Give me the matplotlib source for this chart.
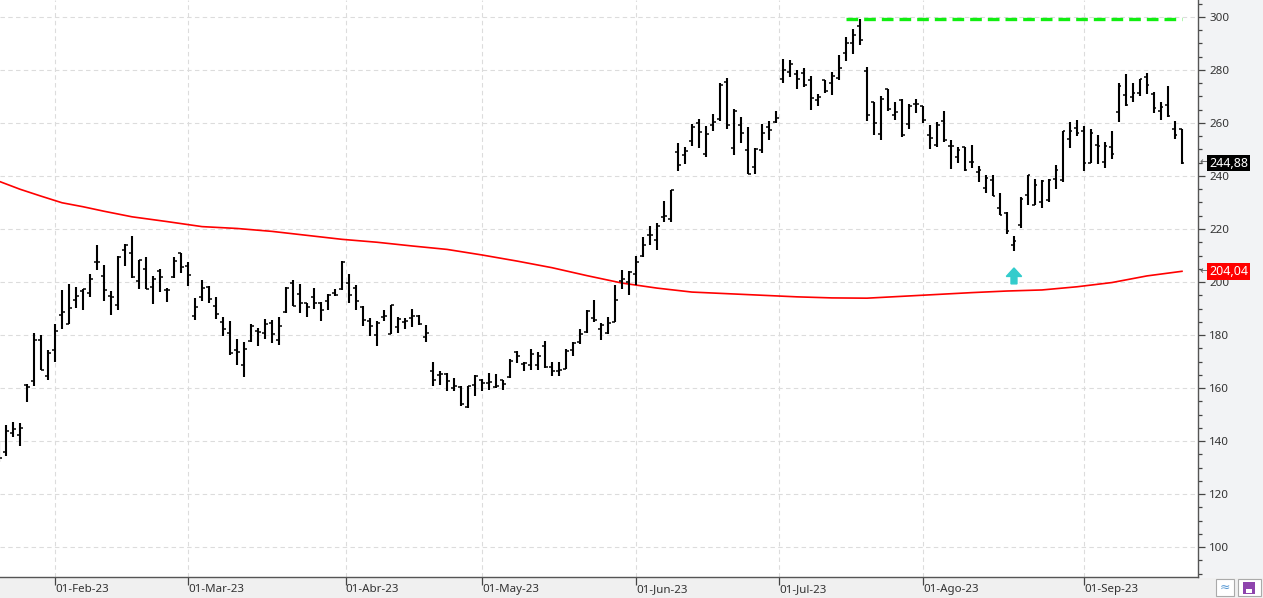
import numpy as np
import matplotlib.pyplot as plt
from matplotlib.ticker import MultipleLocator
from matplotlib.patches import Rectangle

plt.rcParams['font.family'] = ['Noto Sans', 'DejaVu Sans']

## DATA ##

# daily OHLC bars, one per trading day (Jan-23 .. Sep-23)
opens = [138, 136, 143.1, 142.1, 161.25, 162.75, 178, 164.6, 174.25, 187.4,
         184.25, 193.1, 196.6, 196, 207.6, 202.1, 194.6, 191.5, 211.9, 211.1,
         200.25, 204.75, 198, 204, 197.1, 201.9, 211, 206.1, 187.1, 194.5,
         198.25, 191.1, 184.9, 180.75, 174.25, 168.5, 177.6, 181.5, 180.6, 184.6,
         178, 188.5, 199.5, 195.4, 191.9, 194.5, 192, 192.9, 195.75, 197.5,
         199.75, 197.9, 190.6, 185.25, 180, 186.9, 180.5, 183, 184.75, 186.25,
         187.25, 179.25, 166.4, 165, 165.4, 160, 160.4, 152.75, 161.25, 163.1,
         161.9, 160.4, 162.9, 164.25, 173.75, 169.1, 168.75, 168.6, 176, 168,
         166.4, 167.1, 174.25, 177.25, 181, 186.25, 182.25, 180.6, 184.75, 200.25,
         199.9, 202.9, 209.75, 217.75, 215.9, 224.4, 223.6, 249.1, 247.9, 253.2,
         260, 248.3, 259.3, 261.4, 275.3, 250.7, 259.3, 249.8, 243.3, 249.9,
         258.3, 260.4, 276.7, 279.2, 278.3, 278.9, 276.3, 268.7, 276.2, 274.9,
         277, 286.5, 290.3, 296.5, 279.7, 268.1, 255.7, 272.8, 263, 268.5,
         259.6, 267.2, 266.3, 255.6, 251.7, 260.9, 251.3, 247.3, 250.8, 245.1,
         241.6, 235.4, 238.6, 228, 226.2, 213.9, 221.4, 232.9, 229.1, 230,
         230.9, 238.8, 238.4, 254, 258.1, 257.1, 244.8, 251.7, 245.1, 250.8,
         264.3, 270.6, 269.7, 271.5, 277.3, 271.1, 264.4, 266.6, 257.9, 257.6]
highs = [140, 145.9, 147, 146.75, 161.5, 180.6, 180, 174.4, 184.1, 196.9,
         199.1, 198.25, 197.5, 202.9, 214.1, 206.25, 196.5, 209.9, 214.4, 217.5,
         208.4, 209.6, 202.1, 205, 197.75, 209.6, 211.1, 207.4, 193.9, 200.6,
         198.4, 194.25, 186.75, 185.25, 178.4, 177.4, 184, 182.5, 186, 185.75,
         186.9, 198.1, 200.6, 199.4, 192.25, 197.6, 192.4, 195.4, 197.25, 207.75,
         202.9, 198.75, 190.9, 186.5, 185.25, 189.25, 191.5, 186.75, 186.6, 189.75,
         187.6, 183.75, 170, 166.25, 165.6, 163.75, 160.6, 160.6, 165.1, 163.4,
         165.75, 165.25, 163, 171, 174, 169.75, 174.75, 173.5, 177.75, 169.75,
         169.9, 174.75, 177.25, 182.1, 189.4, 193.1, 184.4, 186.9, 199, 204.5,
         204, 210, 217, 221.25, 222.1, 230.6, 234.9, 252.6, 251.1, 259.6,
         261.5, 259, 263.4, 275, 277, 265.1, 262.4, 258.3, 250.4, 259.6,
         260.9, 264.7, 284.2, 283.9, 280.1, 280.8, 277.6, 271, 276.3, 279.4,
         285.5, 292.4, 295.3, 299.4, 281.1, 268.1, 270, 272.9, 268.1, 269.1,
         267.2, 269.1, 266.5, 259.4, 260.5, 264.7, 253.6, 251.1, 251.1, 251.8,
         243.8, 240.5, 240.5, 233.7, 226.5, 217.4, 232, 240.5, 238.8, 238.4,
         238.8, 244.1, 257.1, 260.5, 261.2, 259, 257.8, 255.6, 253, 256.8,
         275, 278.6, 275, 276.7, 279, 271.6, 268.1, 274.1, 260.9, 257.8]
lows = [132, 134.4, 141.4, 138.25, 154.6, 160.9, 166.75, 162.9, 170, 182.4,
        184.25, 190.1, 189.4, 194.4, 204.4, 192.9, 187.6, 189.6, 206, 201.6,
        197.4, 197.25, 191.6, 196.1, 192.4, 201.6, 203.4, 198.4, 185.6, 192.9,
        192.1, 186.1, 179.75, 172.5, 168.5, 164.1, 177.5, 176, 178.5, 177,
        176.4, 188.4, 190.9, 188.4, 186.9, 189.9, 185.4, 189.6, 194.6, 197.1,
        192.1, 189.4, 183.5, 179.75, 176, 185.4, 180.25, 180.9, 182.1, 183.1,
        183.6, 177.5, 160.6, 161.25, 158.75, 158.75, 153.1, 152.4, 157.1, 158.75,
        159.1, 160, 159.4, 163.75, 169.4, 166.6, 166.9, 166.75, 167.4, 164.4,
        164.4, 167.1, 172.25, 176.6, 180.6, 185, 178.25, 180.4, 184.75, 197.5,
        195.25, 199, 209.4, 214.1, 212.25, 222.8, 222.8, 241.7, 244.4, 251.2,
        250.4, 247, 256.9, 260.9, 257.6, 248, 252.6, 240.6, 240.6, 248.5,
        253.6, 260, 275, 277.3, 272.8, 273.5, 264.9, 266.3, 271.3, 270.6,
        276.3, 283.4, 286, 289.4, 260.9, 255.6, 253.7, 264.7, 261.3, 254.6,
        257.6, 263.7, 259.9, 250.1, 251.1, 252.7, 242.5, 244.8, 241.7, 243,
        237.6, 233.5, 232.3, 225.3, 218.3, 211.7, 220.3, 229.1, 228.9, 227.9,
        230, 235.1, 237.6, 250.4, 255.1, 241.9, 244.8, 244.7, 242.9, 246.4,
        260.3, 266.3, 267.8, 270, 271, 263.7, 261.2, 262.4, 254, 244.6]
closes = [133.75, 143.9, 144.4, 144.75, 160.4, 178, 166.75, 173.25, 181.5, 188.5,
          190.1, 194.9, 197.25, 201.25, 207.4, 196.9, 194.5, 209.5, 214.1, 201.9,
          208.4, 197.4, 201, 202, 196.9, 207.75, 205.75, 202.75, 190.75, 197.9,
          193.75, 187.75, 182.1, 173.25, 173.5, 174.75, 183.4, 181.1, 184.1, 180.25,
          183.4, 197.75, 191.1, 192.25, 190.5, 191.9, 189.25, 195, 195.25, 207.5,
          195, 192.75, 185.5, 183.4, 184.5, 187.25, 191.25, 186.1, 185.4, 187.1,
          184.1, 180.75, 163, 165.4, 162.6, 160.6, 154, 160.6, 164.4, 161.9,
          162.25, 160.9, 161.5, 170.25, 172.1, 169.6, 173, 172.1, 168, 166.4,
          166.9, 174, 176.9, 180.4, 189.1, 185.5, 183.6, 184.6, 193.1, 201.25,
          203.9, 207.4, 213.9, 217.75, 221.25, 224.8, 234.8, 244.1, 249.4, 258.5,
          256.6, 255.9, 260.5, 274.5, 259.4, 264.7, 256.4, 240.9, 250.3, 256.2,
          257.5, 261.7, 280.1, 282.3, 276.7, 274.3, 269.5, 269.9, 272.1, 277.8,
          280.8, 290.3, 293.3, 291.4, 263, 260, 269.1, 265.2, 264.3, 255.5,
          266.5, 267.2, 261.3, 254.4, 259.3, 253.6, 251.3, 249.8, 242.2, 245.1,
          242.4, 239.2, 232.5, 225.3, 219.3, 215.5, 231.5, 240.2, 236.7, 238.2,
          238.6, 242.2, 256.8, 257, 256.2, 245, 256.2, 251.5, 251.2, 248.3,
          273.8, 266.6, 271.5, 276.5, 274.5, 265.6, 266.2, 262.8, 255.6, 244.88]

# moving average (red line) at a number of bars
ma_idx = [1, 4, 7, 10, 13, 16, 20, 25, 30, 35, 40, 45, 50, 55, 60, 65, 70, 75,
          80, 85, 90, 95, 100, 105, 110, 115, 120, 125, 130, 135, 140, 145, 150,
          155, 160, 165, 170]
ma_val = [238.0, 235.0, 232.4, 229.9, 228.4, 226.7, 224.6, 222.8, 220.9, 220.2,
          219.1, 217.6, 216.1, 215.0, 213.6, 212.3, 210.2, 207.9, 205.4, 202.4,
          199.6, 197.7, 196.2, 195.6, 195.0, 194.4, 194.0, 193.9, 194.6, 195.3,
          196.0, 196.6, 197.0, 198.2, 199.8, 202.3, 204.04]

# month ticks (position in trading days)
tick_pos = [9, 28, 50.5, 70, 92, 112.5, 133, 156]
tick_lab = ['01-Feb-23', '01-Mar-23', '01-Abr-23', '01-May-23',
            '01-Jun-23', '01-Jul-23', '01-Ago-23', '01-Sep-23']

resist_level = 299.3          # green dashed line
resist_from, resist_to = 122, 170
signal_bar = 146              # cyan arrow
last_close = closes[-1]
last_ma = ma_val[-1]

## PLOT ##
W, H = 1263, 598
fig = plt.figure(figsize=(W / 100, H / 100), dpi=100)
fig.patch.set_facecolor('#f0f0f0')

# right price panel background, behind the axes
fig.patches.append(Rectangle((1199 / W, 21 / H), (W - 1199) / W, 1 - 21 / H,
                             transform=fig.transFigure, color='#f2f3f5', zorder=-5))

ax = fig.add_axes([0, 21 / H, 1198 / W, 577 / H])
ax.set_facecolor('white')

idx = np.arange(1, len(opens) + 1)
ax.vlines(idx, lows, highs, color='black', linewidth=1.5, zorder=3)
ax.hlines(opens, idx - 0.36, idx, color='black', linewidth=1.1, zorder=3)
ax.hlines(closes, idx, idx + 0.36, color='black', linewidth=1.1, zorder=3)

ax.plot(ma_idx, ma_val, color='#ff0000', linewidth=1.2, zorder=2)
ax.hlines(resist_level, resist_from, resist_to, color='#11ee11', linewidth=2.4,
          linestyles=(0, (3.5, 1.8)), zorder=2)
ax.arrow(signal_bar, 199.3, 0, 2.8, width=0.85, head_width=2.2, head_length=3.2,
         length_includes_head=False, color='#33cccc', zorder=4)

# axes
ax.set_xlim(1.14, 172.29)
ax.set_ylim(88.7, 306.4)
ax.grid(True, color='#dcdcdc', linestyle=(0, (4, 3)), linewidth=0.8)
ax.set_axisbelow(True)

ax.yaxis.tick_right()
ax.set_yticks(range(100, 301, 20))
ax.yaxis.set_minor_locator(MultipleLocator(5))
ax.tick_params(axis='y', which='major', length=5, width=0.9, color='#444444',
               labelsize=8.3, labelcolor='#333333', pad=3)
ax.tick_params(axis='y', which='minor', length=3, width=0.9, color='#444444')

ax.set_xticks(tick_pos)
ax.set_xticklabels(tick_lab)
ax.tick_params(axis='x', length=6, width=0.9, color='#444444', labelsize=8.3,
               labelcolor='#333333', pad=-1.2)
for lab in ax.get_xticklabels():
    lab.set_horizontalalignment('left')

for s in ['top', 'left']:
    ax.spines[s].set_visible(False)
for s in ['right', 'bottom']:
    ax.spines[s].set_color('#555555')
    ax.spines[s].set_linewidth(1.0)

# price tags on the right axis
for val, bg in [(last_close, 'black'), (last_ma, '#ff0000')]:
    lab = f'{val:.2f}'.replace('.', ',')
    ax.annotate(lab, xy=(1.0, val), xycoords=('axes fraction', 'data'),
                xytext=(11, 0), textcoords='offset pixels', va='center', ha='left',
                fontsize=9, color='white', zorder=6,
                bbox=dict(boxstyle='square,pad=0.15', fc=bg, ec='none'),
                annotation_clip=False)
    ax.annotate('\u2190', xy=(1.0, val), xycoords=('axes fraction', 'data'),
                xytext=(1, 0), textcoords='offset pixels', va='center', ha='left',
                fontsize=8, color='#666666', annotation_clip=False)

# little icons in the bottom right corner
fig.patches.append(Rectangle((1216 / W, 2 / H), 18 / W, 17 / H, transform=fig.transFigure,
                             fc='white', ec='#aaaaaa', lw=0.8))
fig.text(1225 / W, 10.5 / H, '\u2248', color='#5b9bd5', fontsize=9, ha='center', va='center')
fig.patches.append(Rectangle((1238 / W, 2 / H), 23 / W, 17 / H, transform=fig.transFigure,
                             fc='white', ec='#aaaaaa', lw=0.8))
fig.patches.append(Rectangle((1243 / W, 4.5 / H), 12 / W, 12 / H, transform=fig.transFigure,
                             fc='#8e44ad', ec='none'))
fig.patches.append(Rectangle((1246 / W, 5 / H), 6 / W, 4 / H, transform=fig.transFigure,
                             fc='white', ec='none'))

fig.savefig('out.png', dpi=100, facecolor=fig.get_facecolor())
